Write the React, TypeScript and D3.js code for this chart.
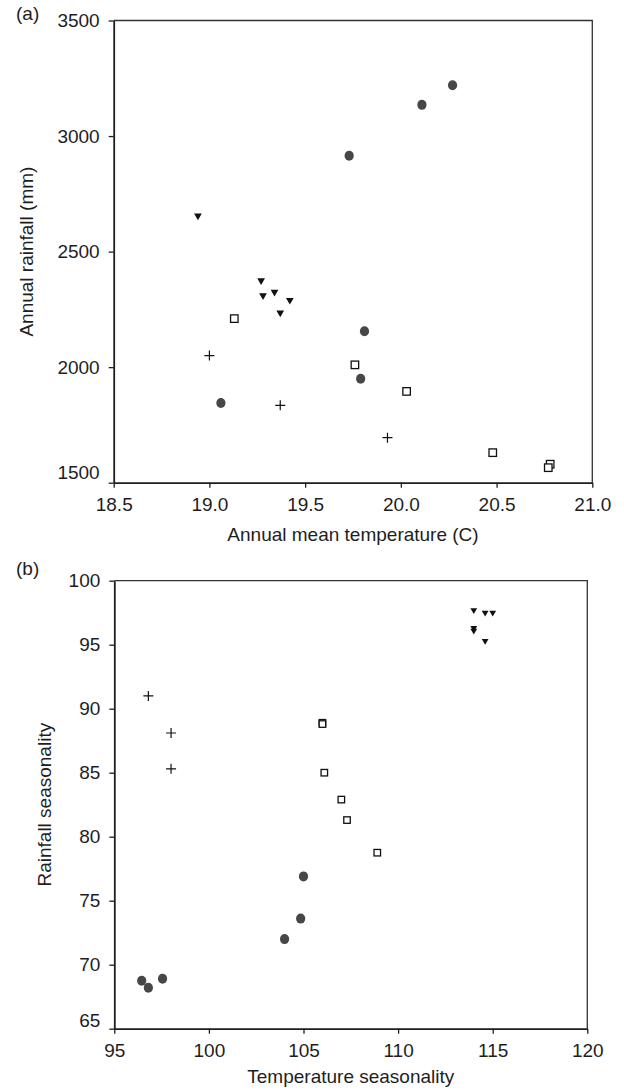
import React, { useEffect, useRef } from 'react';
import * as d3 from 'd3';

// panel (a): annual mean temperature (C) vs annual rainfall (mm)
const circleTemp = [19.73, 20.27, 20.11, 19.81, 19.79, 19.06];
const circleRain = [2915, 3220, 3135, 2155, 1950, 1845];
const triangleTemp = [18.94, 19.27, 19.28, 19.34, 19.42, 19.37];
const triangleRain = [2655, 2375, 2310, 2325, 2290, 2235];
const squareTemp = [19.13, 19.76, 20.03, 20.48, 20.78, 20.77];
const squareRain = [2210, 2010, 1895, 1630, 1580, 1565];
const crossTemp = [19.0, 19.37, 19.93];
const crossRain = [2050, 1835, 1695];

// panel (b): temperature seasonality vs rainfall seasonality
const circleTSeas = [105.0, 104.85, 104.0, 96.45, 96.8, 97.55];
const circleRSeas = [76.9, 73.6, 72.0, 68.75, 68.2, 68.9];
const triangleTSeas = [114.0, 114.6, 115.0, 114.0, 114.0, 114.6];
const triangleRSeas = [97.7, 97.5, 97.5, 96.1, 96.3, 95.3];
const squareTSeas = [106.0, 106.0, 106.1, 107.0, 107.3, 108.9];
const squareRSeas = [88.9, 88.8, 85.0, 82.9, 81.3, 78.75];
const crossTSeas = [96.8, 98.0, 98.0];
const crossRSeas = [91.0, 88.1, 85.3];

const tempTicks = [18.5, 19.0, 19.5, 20.0, 20.5, 21.0];
const rainTicks = [1500, 2000, 2500, 3000, 3500];
const tSeasTicks = [95, 100, 105, 110, 115, 120];
const rSeasTicks = [65, 70, 75, 80, 85, 90, 95, 100];

const FONT = '"Liberation Sans", Arial, Helvetica, sans-serif';
const FS = '19px';
const INK = '#1e1e1e';

const zip = (xs: number[], ys: number[]) => xs.map((x, i) => [x, ys[i]] as [number, number]);

type Panel = {
  tag: string;
  tagY: number;
  left: number; right: number; top: number; bottom: number;
  xDomain: [number, number]; yDomain: [number, number];
  xTicks: number[]; yTicks: number[];
  xFormat: (d: number) => string;
  xTitle: string; yTitle: string;
  xTitleY: number; yTitleX: number;
  bottomLabelShift: number;
  circles: [number, number][];
  triangles: [number, number][];
  squares: [number, number][];
  crosses: [number, number][];
  sq: number; tri: number;
};

function drawPanel(svg: d3.Selection<SVGSVGElement, unknown, null, undefined>, p: Panel) {
  const x = d3.scaleLinear().domain(p.xDomain).range([p.left, p.right]);
  const y = d3.scaleLinear().domain(p.yDomain).range([p.bottom, p.top]);
  const g = svg.append('g');

  // frame top + right
  g.append('path')
    .attr('d', `M${p.left},${p.top} H${p.right} V${p.bottom}`)
    .attr('fill', 'none')
    .attr('stroke', '#333')
    .attr('stroke-width', 1.3);

  const xAxis = g.append('g')
    .attr('transform', `translate(0,${p.bottom})`)
    .call(d3.axisBottom(x).tickValues(p.xTicks).tickSize(5).tickSizeOuter(0).tickPadding(10).tickFormat((d) => p.xFormat(+d)));

  const yAxis = g.append('g')
    .attr('transform', `translate(${p.left},0)`)
    .call(d3.axisLeft(y).tickValues(p.yTicks).tickSize(5).tickSizeOuter(0).tickPadding(9).tickFormat((d) => String(d)));

  [xAxis, yAxis].forEach((a) => {
    a.select('.domain').attr('stroke', INK).attr('stroke-width', 1.8);
    a.selectAll('.tick line').attr('stroke', INK).attr('stroke-width', 1.3);
    a.selectAll('.tick text').attr('fill', INK).style('font-size', FS).style('font-family', FONT);
  });

  // lowest y label sits a bit above its tick
  yAxis.selectAll<SVGTextElement, number>('.tick text')
    .filter((d) => d === p.yTicks[0])
    .attr('transform', `translate(0,${p.bottomLabelShift})`);

  g.append('text')
    .attr('x', (p.left + p.right) / 2)
    .attr('y', p.xTitleY)
    .attr('text-anchor', 'middle')
    .attr('fill', INK)
    .style('font-size', FS)
    .style('font-family', FONT)
    .text(p.xTitle);

  g.append('text')
    .attr('transform', `translate(${p.yTitleX},${(p.top + p.bottom) / 2}) rotate(-90)`)
    .attr('text-anchor', 'middle')
    .attr('fill', INK)
    .style('font-size', FS)
    .style('font-family', FONT)
    .text(p.yTitle);

  g.append('text')
    .attr('x', 16)
    .attr('y', p.tagY)
    .attr('fill', INK)
    .style('font-size', FS)
    .style('font-family', FONT)
    .text(p.tag);

  g.selectAll('.pt-circle')
    .data(p.circles)
    .enter()
    .append('ellipse')
    .attr('cx', (d) => x(d[0]))
    .attr('cy', (d) => y(d[1]))
    .attr('rx', 4.6)
    .attr('ry', 5)
    .attr('fill', '#474747');

  const tri = d3.symbol().type(d3.symbolTriangle).size(p.tri);
  g.selectAll('.pt-tri')
    .data(p.triangles)
    .enter()
    .append('path')
    .attr('d', tri() as string)
    .attr('transform', (d) => `translate(${x(d[0])},${y(d[1])}) rotate(180)`)
    .attr('fill', '#111');

  g.selectAll('.pt-sq')
    .data(p.squares)
    .enter()
    .append('rect')
    .attr('x', (d) => x(d[0]) - p.sq / 2)
    .attr('y', (d) => y(d[1]) - p.sq / 2)
    .attr('width', p.sq)
    .attr('height', p.sq)
    .attr('fill', '#fff')
    .attr('stroke', '#111')
    .attr('stroke-width', 1.3);

  g.selectAll('.pt-cross')
    .data(p.crosses)
    .enter()
    .append('path')
    .attr('d', (d) => {
      const cx = x(d[0]);
      const cy = y(d[1]);
      return `M${cx - 5},${cy} H${cx + 5} M${cx},${cy - 5} V${cy + 5}`;
    })
    .attr('stroke', '#111')
    .attr('stroke-width', 1.2)
    .attr('fill', 'none');
}

const App = () => {
  const ref = useRef<SVGSVGElement>(null);

  useEffect(() => {
    if (!ref.current) return;
    const svg = d3.select(ref.current);
    svg.selectAll('*').remove();

    drawPanel(svg, {
      tag: '(a)', tagY: 20,
      left: 113.7, right: 592.3, top: 20.5, bottom: 482.7,
      xDomain: [18.5, 21.0], yDomain: [1500, 3500],
      xTicks: tempTicks, yTicks: rainTicks,
      xFormat: d3.format('.1f'),
      xTitle: 'Annual mean temperature (C)', yTitle: 'Annual rainfall (mm)',
      xTitleY: 541, yTitleX: 33,
      bottomLabelShift: -10,
      circles: zip(circleTemp, circleRain),
      triangles: zip(triangleTemp, triangleRain),
      squares: zip(squareTemp, squareRain),
      crosses: zip(crossTemp, crossRain),
      sq: 7.5, tri: 26,
    });

    drawPanel(svg, {
      tag: '(b)', tagY: 575,
      left: 114.3, right: 587.3, top: 580.7, bottom: 1028.7,
      xDomain: [95, 120], yDomain: [65, 100],
      xTicks: tSeasTicks, yTicks: rSeasTicks,
      xFormat: (d) => String(d),
      xTitle: 'Temperature seasonality', yTitle: 'Rainfall seasonality',
      xTitleY: 1083, yTitleX: 51,
      bottomLabelShift: -8,
      circles: zip(circleTSeas, circleRSeas),
      triangles: zip(triangleTSeas, triangleRSeas),
      squares: zip(squareTSeas, squareRSeas),
      crosses: zip(crossTSeas, crossRSeas),
      sq: 6.5, tri: 20,
    });
  }, []);

  return (
    <svg
      ref={ref}
      width={624}
      height={1092}
      style={{ position: 'absolute', left: 0, top: 0, background: '#fff' }}
    />
  );
};

export default App;
